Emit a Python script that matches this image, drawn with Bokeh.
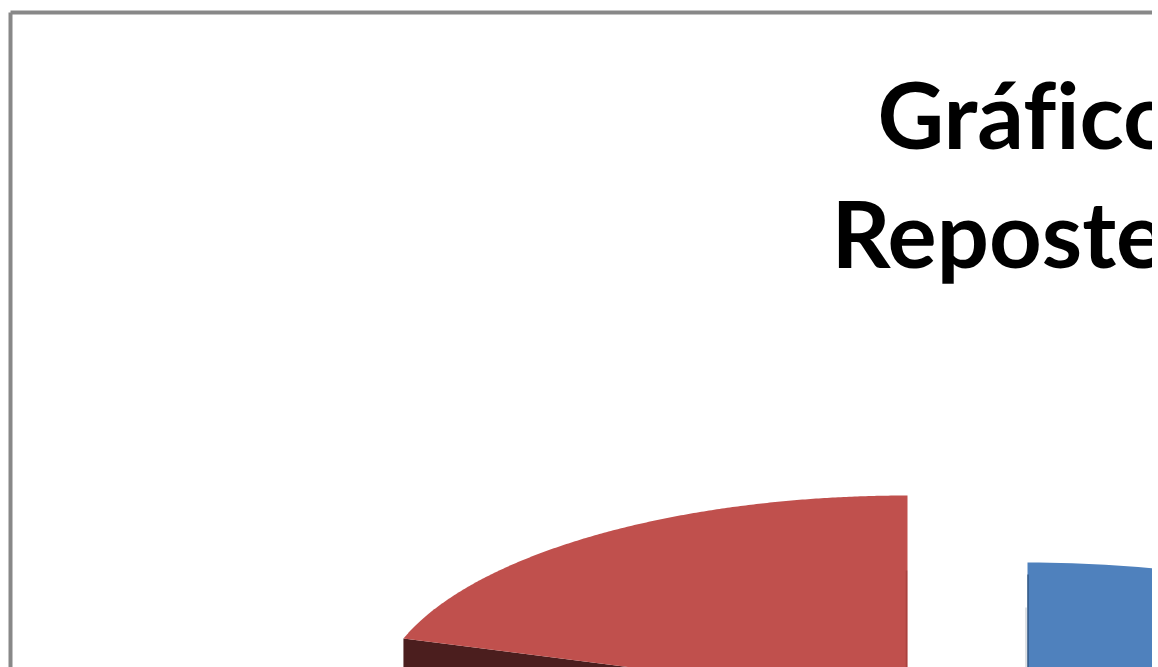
import numpy as np
from bokeh.core.properties import value
from bokeh.embed import file_html
from bokeh.models import Range1d
from bokeh.plotting import figure
from bokeh.resources import INLINE

# Pie shares in percent, clockwise from twelve o'clock
slice_names = ["Azul", "Rojo"]
slice_shares = [80, 20]
slice_colors = ["#4f81bd", "#c0504d"]
slice_edge_colors = ["#2c4d75", "#a33f3c"]
wall_color = "#4b1e1e"
title_lines = ["Gráf\u200cico", "Reposte"]

W, H = 1152, 667
RX, RY = 530, 207          # tilted pie: ellipse radii in pixels
CENTER_BLUE = (1027, 769)  # exploded slice
CENTER_RED = (907, 702)
WALL_DEPTH = 60


def sector(center, start_share, end_share, steps=240):
    """Elliptical sector between two cumulative shares (percent)."""
    cx, cy = center
    t = np.radians(np.linspace(start_share, end_share, steps) * 3.6)
    xs = np.concatenate([[cx], cx + RX * np.sin(t), [cx]])
    ys = np.concatenate([[cy], cy - RY * np.cos(t), [cy]])
    return xs, ys


p = figure(
    width=W, height=H, output_backend="svg", toolbar_location=None,
    x_range=Range1d(0, W), y_range=Range1d(H, 0),
    min_border=0, outline_line_color=None,
)
p.axis.visible = False
p.grid.visible = False
p.background_fill_color = "white"
p.border_fill_color = "white"

# Chart area frame, running past the right and bottom of the page
p.line([10, 10], [H + 10, 12], line_color="#888888", line_width=4)
p.line([10, W + 10], [12, 12], line_color="#888888", line_width=4)

# Blue slice
start_blue, end_blue = 0, slice_shares[0]
xs, ys = sector(CENTER_BLUE, start_blue, end_blue)
p.patch(xs, ys, fill_color=slice_colors[0], line_color=None)
p.line([CENTER_BLUE[0] - 1.5] * 2, [CENTER_BLUE[1] - RY + 45, H], line_color="#bcc2c9", line_width=1)
p.line([CENTER_BLUE[0] + 0.5] * 2, [CENTER_BLUE[1] - RY + 12, H], line_color=slice_edge_colors[0],
       line_width=1.5, line_alpha=0.8)

# Red slice: dark cut face below the leading edge, then the top surface
start_red, end_red = slice_shares[0], slice_shares[0] + slice_shares[1]
xs, ys = sector(CENTER_RED, start_red, end_red)
tip_x, tip_y = xs[1], ys[1]
p.patch([tip_x, CENTER_RED[0], CENTER_RED[0], tip_x],
        [tip_y, CENTER_RED[1], CENTER_RED[1] + WALL_DEPTH, tip_y + WALL_DEPTH],
        fill_color=wall_color, line_color=None)
p.patch(xs, ys, fill_color=slice_colors[1], line_color=None)
p.line([CENTER_RED[0] - 1] * 2, [CENTER_RED[1] - RY + 75, H], line_color=slice_edge_colors[1],
       line_width=1.5, line_alpha=0.8)

# Title, one line of text per row
p.text([877], [113], text=[title_lines[0]], text_font=value("Lato"), text_font_style="bold",
       text_font_size="92px", text_color="black", text_baseline="alphabetic", text_align="left")
p.text([831], [232], text=[title_lines[1]], text_font=value("Lato"), text_font_style="bold",
       text_font_size="92px", text_color="black", text_baseline="alphabetic", text_align="left")

open("out.html", "w").write(file_html(p, INLINE))
